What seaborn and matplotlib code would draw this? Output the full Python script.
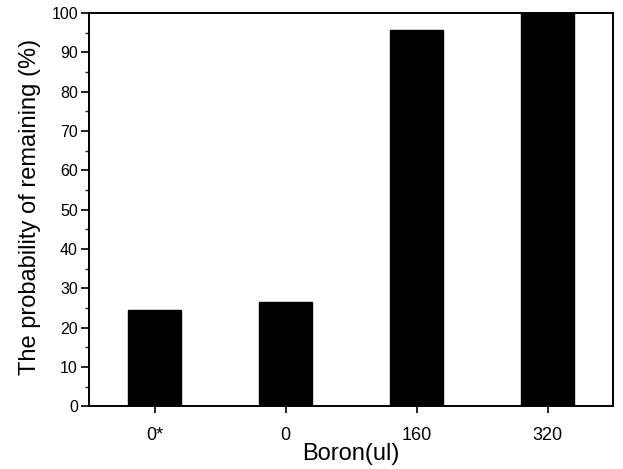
import matplotlib
matplotlib.use("Agg")
import matplotlib.pyplot as plt
import seaborn as sns
import pandas as pd
from matplotlib.ticker import MultipleLocator

categories = ["0*", "0", "160", "320"]
values = [24.5, 26.6, 95.7, 100.0]

sns.set_theme(style="ticks")
plt.rcParams['font.family'] = ['Liberation Sans', 'DejaVu Sans']

df = pd.DataFrame({"Boron": categories, "prob": values})

fig = plt.figure(figsize=(6.23, 4.69), dpi=100)
ax = fig.add_axes([0.143, 0.134, 0.841, 0.838])
sns.barplot(data=df, x="Boron", y="prob", order=categories, color="black",
            width=0.4, saturation=1, ax=ax)
for p in ax.patches:
    p.set_edgecolor("black")
ax.set_xlim(-0.5, 3.5)
ax.set_ylim(0, 100)
ax.yaxis.set_major_locator(MultipleLocator(10))
ax.yaxis.set_minor_locator(MultipleLocator(5))
ax.tick_params(axis="y", which="major", direction="out", length=6, width=1.2, labelsize=11.5, colors="black", pad=2)
ax.tick_params(axis="y", which="minor", direction="out", length=3, width=1.0)
ax.tick_params(axis="x", direction="out", length=5, width=1.2, labelsize=13, pad=10, colors="black")
for s in ax.spines.values():
    s.set_visible(True)
    s.set_linewidth(1.4)
    s.set_color("black")
ax.set_xlabel("Boron(ul)", fontsize=17, labelpad=-1, color="black")
ax.set_ylabel("The probability of remaining (%)", fontsize=17, color="black")
ax.yaxis.set_label_coords(-0.091, 0.507)
fig.savefig("out.png", dpi=100)
